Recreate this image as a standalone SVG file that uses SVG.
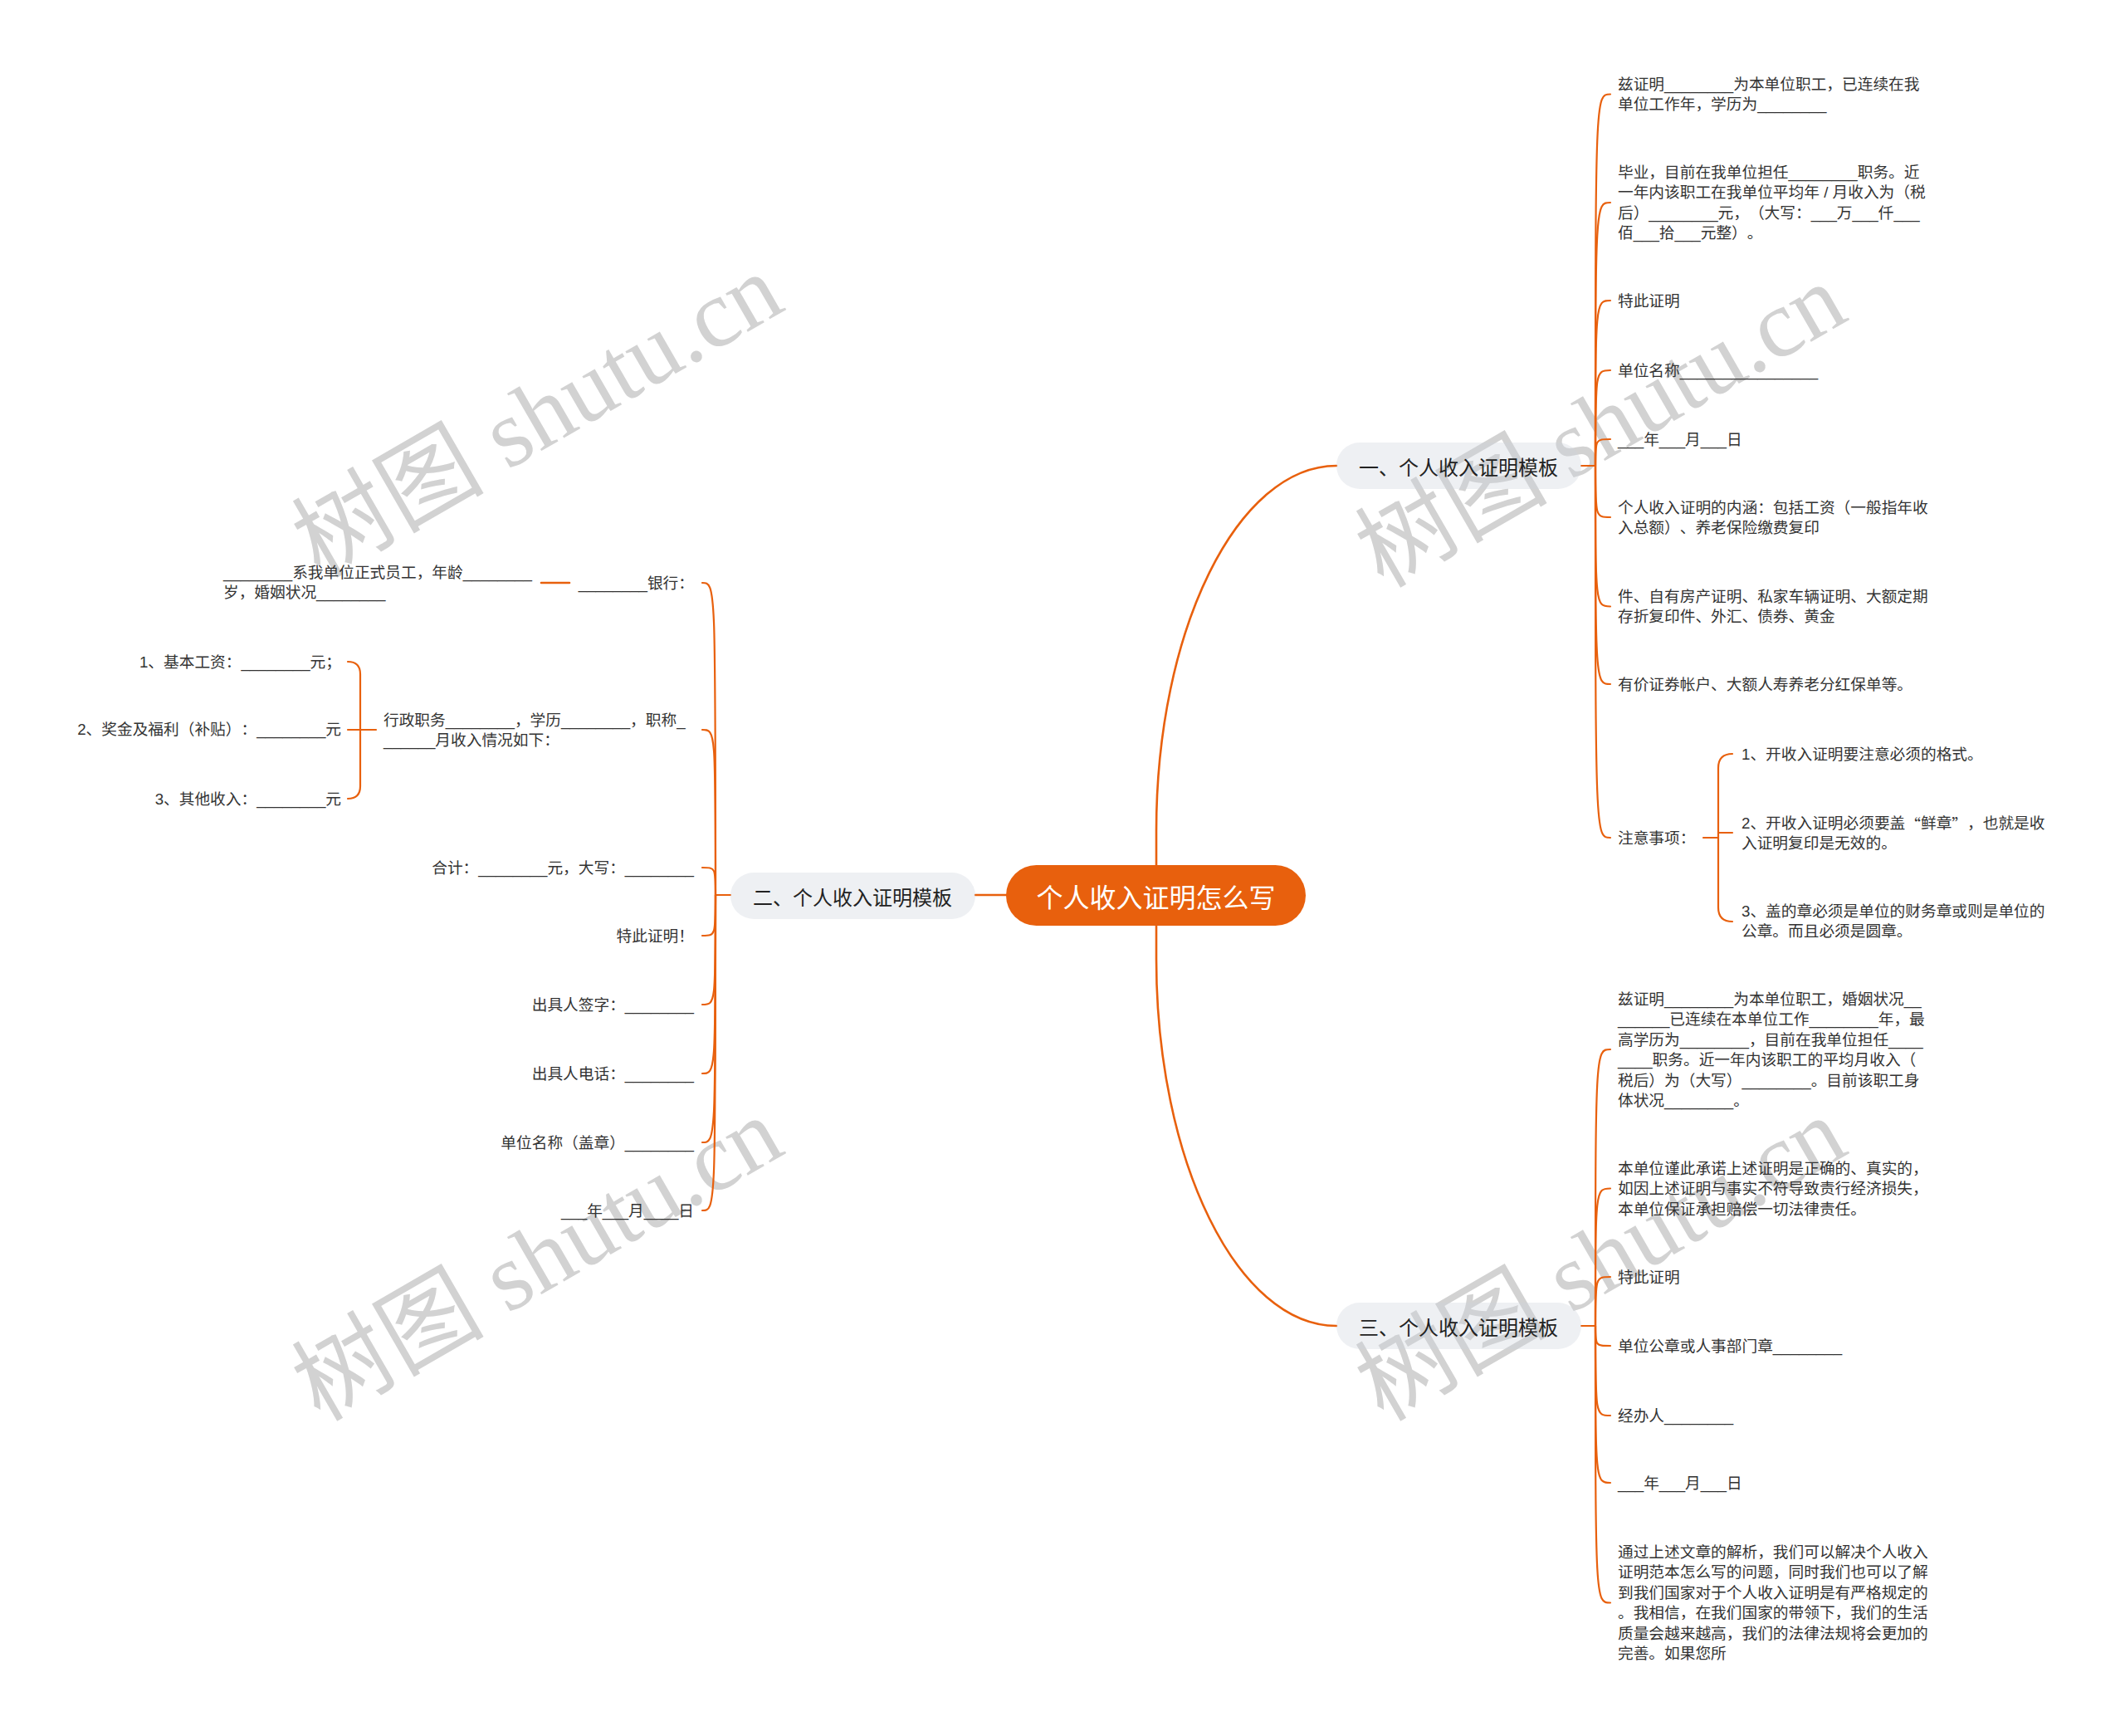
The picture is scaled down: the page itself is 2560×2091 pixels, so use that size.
<svg xmlns="http://www.w3.org/2000/svg" width="2560" height="2091" viewBox="0 0 2560 2091">
<style>
.t{font-family:"Liberation Sans","Noto Sans CJK SC",sans-serif;font-size:18.7px;fill:#333;dominant-baseline:central;text-spacing-trim:space-all}
.e{text-anchor:end}
.q{font-family:"Noto Sans CJK SC",sans-serif}
.c{fill:none;stroke:#E8600D;stroke-width:2.2;stroke-linecap:round}
.m{stroke-width:2.6}
.pill{fill:rgb(206,212,221);fill-opacity:.35}
.b{font-family:"Noto Sans CJK SC",sans-serif;font-size:24px;fill:#222;text-anchor:middle;dominant-baseline:central;text-spacing-trim:space-all}
.root{fill:#E8600D}
.rt{font-family:"Noto Sans CJK SC",sans-serif;font-size:32px;fill:#fff;text-anchor:middle;dominant-baseline:central}
.wm{font-family:"Liberation Serif","Noto Sans CJK SC",serif;font-size:116px;fill:#d2d2d2;text-anchor:middle}
</style>
<rect width="2560" height="2091" fill="#fff"/>
<g id="watermarks">
<text class="wm" transform="translate(647,500) rotate(-30)" y="40">树图 shutu.cn</text>
<text class="wm" transform="translate(647,1516) rotate(-30)" y="40">树图 shutu.cn</text>
<text class="wm" transform="translate(1928,512) rotate(-30)" y="40">树图 shutu.cn</text>
<text class="wm" transform="translate(1928,1516) rotate(-30)" y="40">树图 shutu.cn</text>
</g>
<g id="connectors">
<path class="c m" d="M1393,1078 L1393,1001 C1393,758 1491,561 1610,561"/>
<path class="c m" d="M1393,1078 L1393,1155 C1393,1399 1491,1597 1610,1597"/>
<path class="c m" d="M1212,1078 L1175,1078"/>
<path class="c" d="M1905,561 L1922,561"/>
<path class="c" d="M1922,561 C1922,113.5 1922,113.5 1940,113.5"/>
<path class="c" d="M1922,561 C1922,244 1922,244 1940,244"/>
<path class="c" d="M1922,561 C1922,362 1922,362 1940,362"/>
<path class="c" d="M1922,561 C1922,446 1922,446 1940,446"/>
<path class="c" d="M1922,561 C1922,529 1922,529 1940,529"/>
<path class="c" d="M1922,561 C1922,623 1922,623 1940,623"/>
<path class="c" d="M1922,561 C1922,730.5 1922,730.5 1940,730.5"/>
<path class="c" d="M1922,561 C1922,824 1922,824 1940,824"/>
<path class="c" d="M1922,561 C1922,1009 1922,1009 1940,1009"/>
<path class="c" d="M2052,1009 L2070,1009 M2070,1003 L2087,1003 M2087,908 Q2070,908 2070,925 L2070,1093 Q2070,1110 2087,1110"/>
<path class="c" d="M1905,1597 L1922,1597"/>
<path class="c" d="M1922,1597 C1922,1264 1922,1264 1940,1264"/>
<path class="c" d="M1922,1597 C1922,1431.5 1922,1431.5 1940,1431.5"/>
<path class="c" d="M1922,1597 C1922,1538 1922,1538 1940,1538"/>
<path class="c" d="M1922,1597 C1922,1621 1922,1621 1940,1621"/>
<path class="c" d="M1922,1597 C1922,1705 1922,1705 1940,1705"/>
<path class="c" d="M1922,1597 C1922,1786 1922,1786 1940,1786"/>
<path class="c" d="M1922,1597 C1922,1930.5 1922,1930.5 1940,1930.5"/>
<path class="c" d="M880,1078 L862,1078"/>
<path class="c" d="M862,1078 C862,702 862,702 846,702"/>
<path class="c" d="M862,1078 C862,879 862,879 846,879"/>
<path class="c" d="M862,1078 C862,1045 862,1045 846,1045"/>
<path class="c" d="M862,1078 C862,1127 862,1127 846,1127"/>
<path class="c" d="M862,1078 C862,1210 862,1210 846,1210"/>
<path class="c" d="M862,1078 C862,1293 862,1293 846,1293"/>
<path class="c" d="M862,1078 C862,1376 862,1376 846,1376"/>
<path class="c" d="M862,1078 C862,1458 862,1458 846,1458"/>
<path class="c m" d="M686,702 L652,702"/>
<path class="c" d="M453,879 L419,879 M419,797 Q434,797 434,812 L434,947 Q434,962 419,962"/>
</g>
<g id="root">
<rect class="root" x="1212" y="1042" width="361" height="73" rx="36.5"/>
<text class="rt" x="1392.5" y="1078.5">个人收入证明怎么写</text>
</g>
<g id="b1">
<rect class="pill" x="1610" y="533" width="295" height="56" rx="28"/>
<text class="b" x="1757" y="561">一、个人收入证明模板</text>
</g>
<g id="b2">
<rect class="pill" x="880" y="1051" width="295" height="56" rx="28"/>
<text class="b" x="1027" y="1079">二、个人收入证明模板</text>
</g>
<g id="b3">
<rect class="pill" x="1610" y="1569" width="295" height="56" rx="28"/>
<text class="b" x="1757" y="1597">三、个人收入证明模板</text>
</g>
<g id="b1-1"><text class="t" x="1949" y="101">兹证明________为本单位职工，已连续在我</text><text class="t" x="1949" y="125.5">单位工作年，学历为________</text></g>
<g id="b1-2"><text class="t" x="1949" y="207">毕业，目前在我单位担任________职务。近</text><text class="t" x="1949" y="231.5">一年内该职工在我单位平均年 / 月收入为（税</text><text class="t" x="1949" y="256">后）________元，（大写：___万___仟___</text><text class="t" x="1949" y="280.5">佰___拾___元整）。</text></g>
<g id="b1-3"><text class="t" x="1949" y="362">特此证明</text></g>
<g id="b1-4"><text class="t" x="1949" y="446">单位名称________________</text></g>
<g id="b1-5"><text class="t" x="1949" y="529">___年___月___日</text></g>
<g id="b1-6"><text class="t" x="1949" y="611">个人收入证明的内涵：包括工资（一般指年收</text><text class="t" x="1949" y="635.5">入总额）、养老保险缴费复印</text></g>
<g id="b1-7"><text class="t" x="1949" y="718">件、自有房产证明、私家车辆证明、大额定期</text><text class="t" x="1949" y="742.5">存折复印件、外汇、债券、黄金</text></g>
<g id="b1-8"><text class="t" x="1949" y="824">有价证券帐户、大额人寿养老分红保单等。</text></g>
<g id="b1-9"><text class="t" x="1949" y="1009">注意事项：</text></g>
<g id="b1-9-1"><text class="t" x="2098" y="908">1、开收入证明要注意必须的格式。</text></g>
<g id="b1-9-2"><text class="t" x="2098" y="991">2、开收入证明必须要盖<tspan class="q">“</tspan>鲜章<tspan class="q">”</tspan>，也就是收</text><text class="t" x="2098" y="1015.5">入证明复印是无效的。</text></g>
<g id="b1-9-3"><text class="t" x="2098" y="1097">3、盖的章必须是单位的财务章或则是单位的</text><text class="t" x="2098" y="1121.5">公章。而且必须是圆章。</text></g>
<g id="b3-1"><text class="t" x="1949" y="1203">兹证明________为本单位职工，婚姻状况__</text><text class="t" x="1949" y="1227.5">______已连续在本单位工作________年，最</text><text class="t" x="1949" y="1252">高学历为________，目前在我单位担任____</text><text class="t" x="1949" y="1276.5">____职务。近一年内该职工的平均月收入（</text><text class="t" x="1949" y="1301">税后）为（大写）________。目前该职工身</text><text class="t" x="1949" y="1325.5">体状况________。</text></g>
<g id="b3-2"><text class="t" x="1949" y="1407">本单位谨此承诺上述证明是正确的、真实的，</text><text class="t" x="1949" y="1431.5">如因上述证明与事实不符导致责行经济损失，</text><text class="t" x="1949" y="1456">本单位保证承担赔偿一切法律责任。</text></g>
<g id="b3-3"><text class="t" x="1949" y="1538">特此证明</text></g>
<g id="b3-4"><text class="t" x="1949" y="1621">单位公章或人事部门章________</text></g>
<g id="b3-5"><text class="t" x="1949" y="1705">经办人________</text></g>
<g id="b3-6"><text class="t" x="1949" y="1786">___年___月___日</text></g>
<g id="b3-7"><text class="t" x="1949" y="1869">通过上述文章的解析，我们可以解决个人收入</text><text class="t" x="1949" y="1893.5">证明范本怎么写的问题，同时我们也可以了解</text><text class="t" x="1949" y="1918">到我们国家对于个人收入证明是有严格规定的</text><text class="t" x="1949" y="1942.5">。我相信，在我们国家的带领下，我们的生活</text><text class="t" x="1949" y="1967">质量会越来越高，我们的法律法规将会更加的</text><text class="t" x="1949" y="1991.5">完善。如果您所</text></g>
<g id="b2-1"><text class="t e" x="836" y="702">________银行：</text></g>
<g id="b2-1-1"><text class="t" x="269" y="689">________系我单位正式员工，年龄________</text><text class="t" x="269" y="713.5">岁，婚姻状况________</text></g>
<g id="b2-2"><text class="t" x="462" y="867">行政职务________，学历________，职称_</text><text class="t" x="462" y="891.5">______月收入情况如下：</text></g>
<g id="b2-2-1"><text class="t e" x="411" y="797">1、基本工资：________元；</text></g>
<g id="b2-2-2"><text class="t e" x="411" y="878">2、奖金及福利（补贴）：________元</text></g>
<g id="b2-2-3"><text class="t e" x="411" y="962">3、其他收入：________元</text></g>
<g id="b2-3"><text class="t e" x="836" y="1045">合计：________元，大写：________</text></g>
<g id="b2-4"><text class="t e" x="836" y="1127">特此证明！</text></g>
<g id="b2-5"><text class="t e" x="836" y="1210">出具人签字：________</text></g>
<g id="b2-6"><text class="t e" x="836" y="1293">出具人电话：________</text></g>
<g id="b2-7"><text class="t e" x="836" y="1376">单位名称（盖章）________</text></g>
<g id="b2-8"><text class="t e" x="836" y="1458">___年___月____日</text></g>
</svg>
